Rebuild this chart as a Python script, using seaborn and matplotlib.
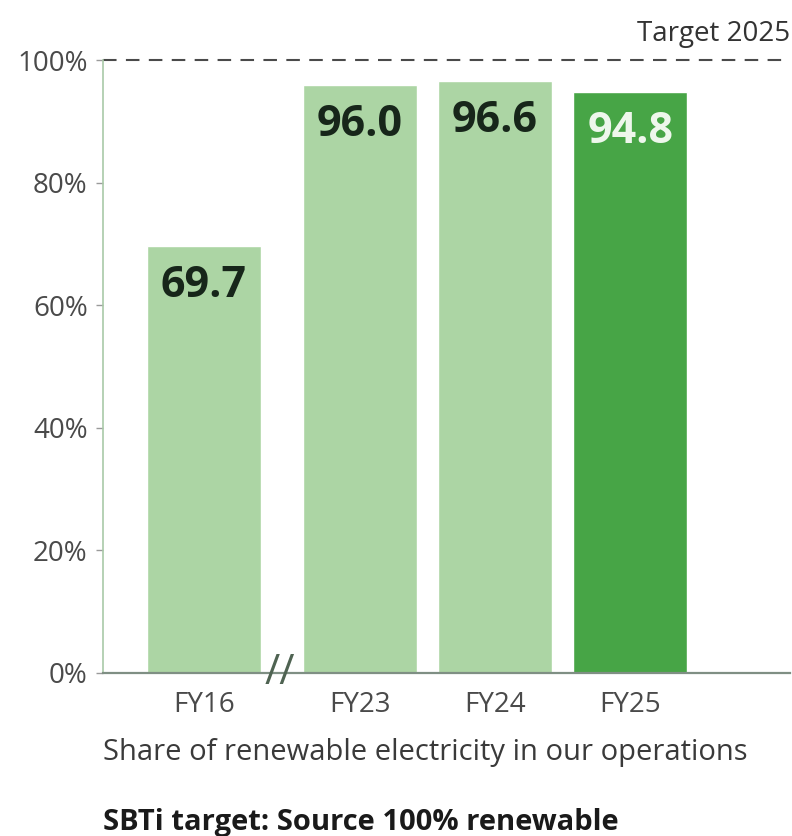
import matplotlib
matplotlib.use("Agg")
import matplotlib.pyplot as plt
import seaborn as sns

# data
years = ["FY16", "FY23", "FY24", "FY25"]
share = [69.7, 96.0, 96.6, 94.8]
target = 100
ytick_vals = [0, 20, 40, 60, 80, 100]

# layout / style (kept apart from the data)
xpos = [0, 1.156, 2.156, 3.156]
bar_colors = ["#acd5a4", "#acd5a4", "#acd5a4", "#47a546"]
label_colors = ["#17261a", "#17261a", "#17261a", "#eef7ec"]

sns.set_theme(style="white")
plt.rcParams["font.family"] = ["Open Sans", "DejaVu Sans"]

fig = plt.figure(figsize=(7.92, 8.36), dpi=100)
ax = fig.add_axes([0.130, 0.195, 0.8675, 0.733])

sns.barplot(x=xpos, y=share, hue=years, palette=bar_colors, native_scale=True,
            width=0.845, legend=False, saturation=1, ax=ax)

ax.set_xlim(-0.748, 4.34)
ax.set_ylim(0, 100)

# value labels inside bar tops
for x, v, c in zip(xpos, share, label_colors):
    ax.text(x, v - 6.5, f"{v:.1f}", ha="center", va="center",
            fontsize=31, fontweight="bold", color=c)

# target line
ax.axhline(target, color="#4a4a4a", lw=1.5, ls=(0, (6.5, 4.5)), clip_on=False)
ax.text(1.0, 1.02, "Target 2025", transform=ax.transAxes, ha="right",
        va="bottom", fontsize=20, color="#333333")

# axes styling
for s in ["top", "right"]:
    ax.spines[s].set_visible(False)
ax.spines["left"].set_color("#a9c9a8")
ax.spines["left"].set_linewidth(1.2)
ax.spines["bottom"].set_color("#7f8f84")
ax.spines["bottom"].set_linewidth(1.6)

ax.set_yticks(ytick_vals)
ax.set_yticklabels([f"{v}%" for v in ytick_vals])
ax.tick_params(axis="y", length=5, width=1, color="#9a9a9a", labelsize=20,
               labelcolor="#4a4a4a", pad=6, left=True)
ax.set_xticks(xpos)
ax.set_xticklabels(years)
ax.tick_params(axis="x", length=0, labelsize=20, labelcolor="#4a4a4a", pad=13)

# axis break mark between FY16 and FY23
ax.text(0.56, 0, "//", ha="center", va="center", fontsize=30,
        color="#4f6352", clip_on=False)

fig.text(0.130, 0.100, "Share of renewable electricity in our operations",
         fontsize=21, color="#3a3a3a", ha="left", va="center")
fig.text(0.130, 0.016, "SBTi target: Source 100% renewable",
         fontsize=21, fontweight="bold", color="#1a1a1a", ha="left", va="center")

fig.savefig("out.png", dpi=100, facecolor="white")
